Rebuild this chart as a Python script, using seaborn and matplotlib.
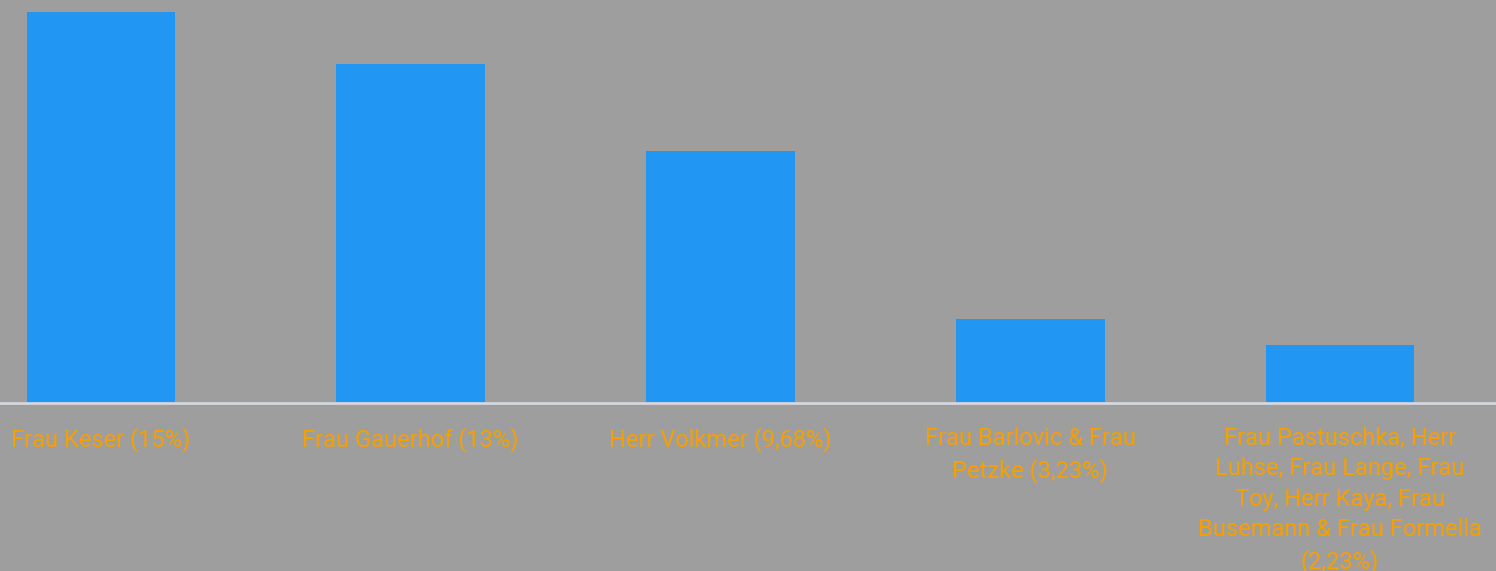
import matplotlib
matplotlib.use("Agg")
import matplotlib.pyplot as plt
import seaborn as sns
import pandas as pd
import textwrap

categories = [
    "Frau Keser (15%)",
    "Frau Gauerhof (13%)",
    "Herr Volkmer (9,68%)",
    "Frau Barlovic & Frau Petzke (3,23%)",
    "Frau Pastuschka, Herr Luhse, Frau Lange, Frau Toy, Herr Kaya, Frau Busemann & Frau Formella (2,23%)",
]
values = [15, 13, 9.68, 3.23, 2.23]

sns.set_theme(style="white")
plt.rcParams["font.family"] = ["Roboto", "DejaVu Sans"]

bg = "#9e9e9e"
fig = plt.figure(figsize=(14.96, 5.71), dpi=100, facecolor=bg)
ax = fig.add_axes([0, 1 - 403 / 571, 1, 403 / 571])
ax.set_facecolor(bg)

df = pd.DataFrame({"cat": categories, "val": values})
sns.barplot(data=df, x="cat", y="val", color="#2196F3", saturation=1, width=0.48,
            linewidth=0, edgecolor="none", ax=ax)

ax.set_xlim(-101 / 309.75, (1496 - 101) / 309.75)
ax.set_ylim(0, 15 * 403 / 391)
ax.set_yticks([])
ax.set_xlabel("")
ax.set_ylabel("")
for s in ["top", "right", "left"]:
    ax.spines[s].set_visible(False)
ax.spines["bottom"].set_color("#d6d6de")
ax.spines["bottom"].set_linewidth(2)

labels = [textwrap.fill(c, 26) for c in categories]
ax.set_xticks(range(len(categories)))
ax.set_xticklabels(labels, color="#F5A000", fontsize=17, linespacing=1.42)
ax.tick_params(axis="x", length=0, pad=17)

fig.savefig("out.png", dpi=100, facecolor=bg)
